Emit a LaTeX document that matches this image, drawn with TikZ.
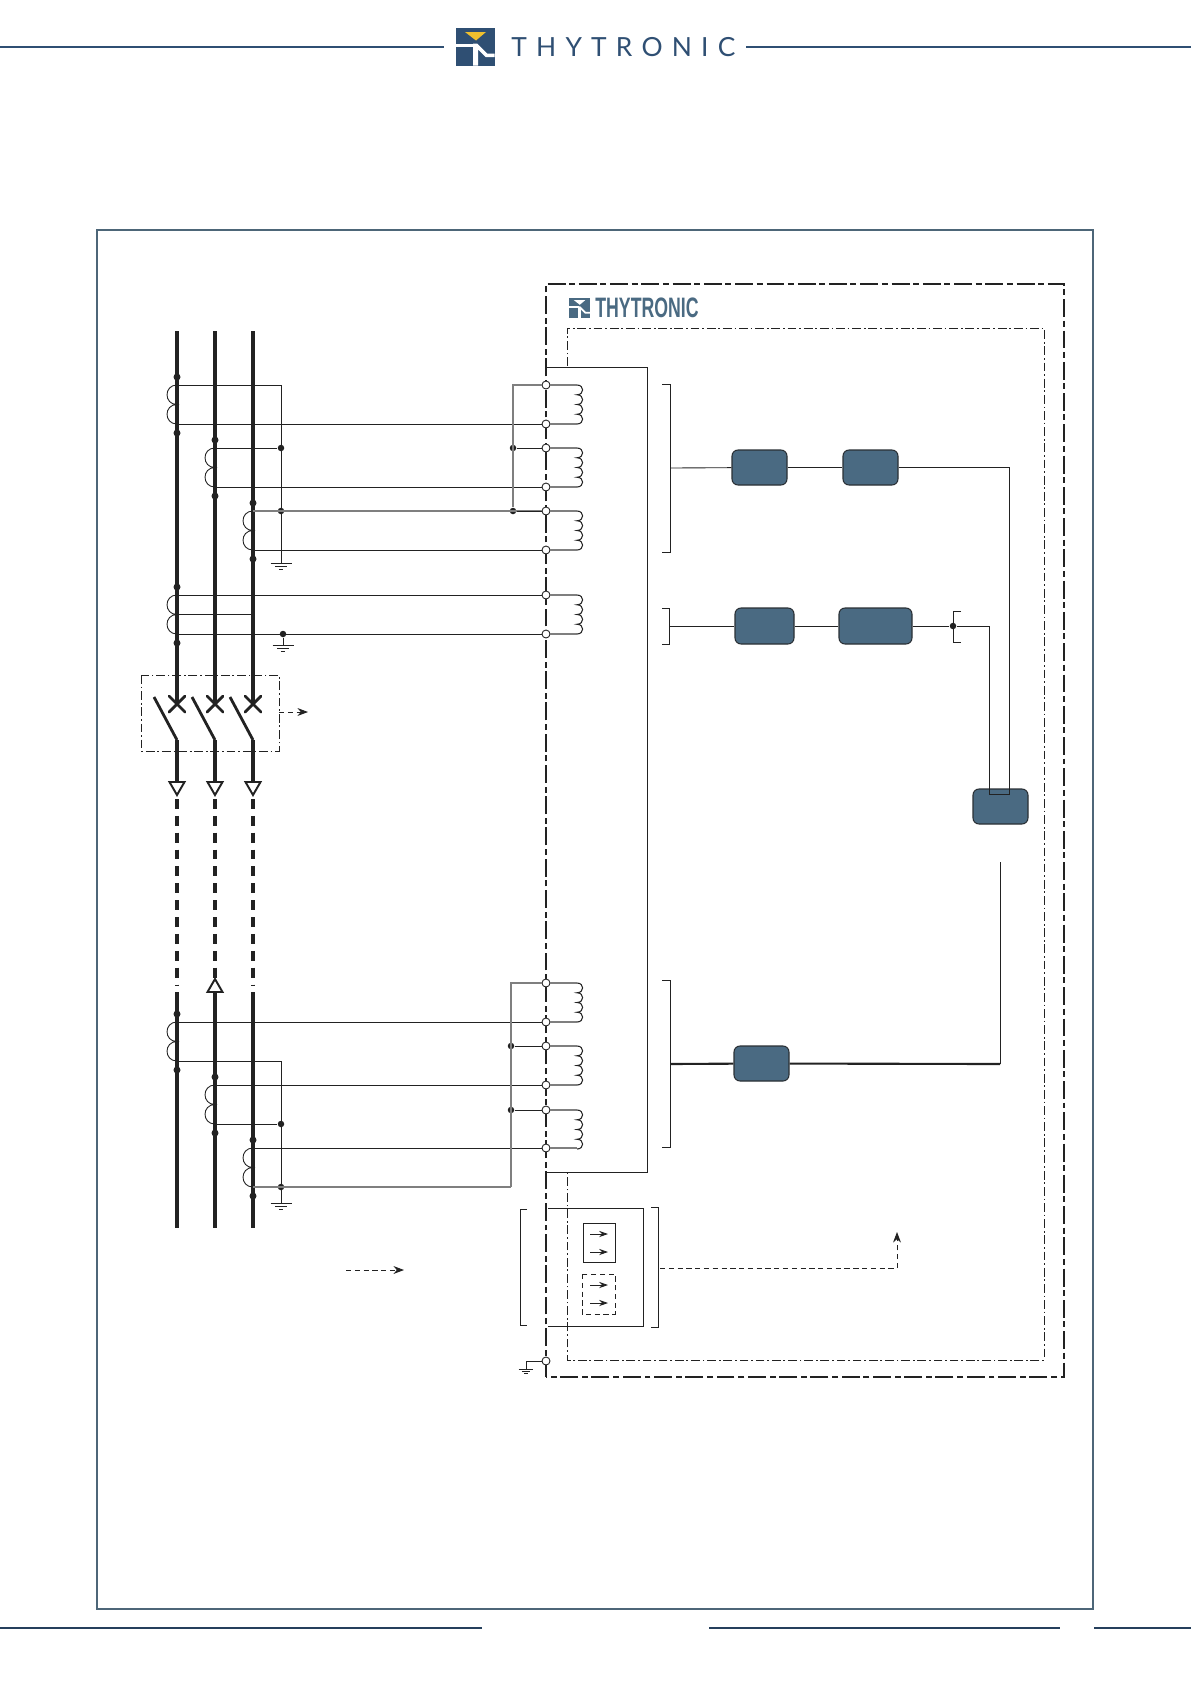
\documentclass[tikz,border=0pt]{standalone}
\usepackage{fontspec}
\usetikzlibrary{arrows.meta,calc}
\newfontfamily\headerfont[LetterSpace=35]{Lato}
\newfontfamily\brandfont[FakeStretch=0.63]{Liberation Sans}
\definecolor{navy}{HTML}{2F4F73}
\definecolor{slate}{HTML}{4A6A82}
\definecolor{framecol}{HTML}{4D6678}
\definecolor{ink}{HTML}{222222}
\definecolor{gold}{HTML}{EFC02E}
\definecolor{greywire}{HTML}{7F7F7F}
\begin{document}
\begin{tikzpicture}[
      x=0.02cm,
      y=-0.02cm,
      wire/.style={draw=ink,
                   line width=0.5pt},
      greyed/.style={draw=greywire,
                     line width=0.7pt},
      heavy/.style={draw=ink,
                    line width=1.2pt},
      phase/.style={draw=ink,
                    line width=2pt},
      phasedash/.style={draw=ink,
                        line width=1.9pt,
                        dash pattern=on 5.6pt off 4pt},
      panel/.style={draw=ink,
                    line width=1.1pt,
                    dash pattern=on 10.2pt off 2pt on 3.4pt off 2.2pt},
      compartment/.style={draw=ink,
                          line width=0.5pt,
                          dash pattern=on 5pt off 1.6pt on 1pt off 1.6pt},
      signal/.style={draw=ink,
                     line width=0.5pt,
                     dash pattern=on 3pt off 2pt},
      block/.style={rectangle,
                    draw=ink!80!slate,
                    line width=0.6pt,
                    fill=slate,
                    rounded corners=0.12cm,
                    minimum height=0.7cm,
                    minimum width=1.1cm},
      terminal/.style={circle,
                       draw=ink,
                       line width=0.5pt,
                       fill=white,
                       inner sep=0pt,
                       minimum size=0.16cm},
      joint/.style={circle,
                    fill=ink,
                    inner sep=0pt,
                    minimum size=0.13cm},
      tap/.style={joint,
                  minimum size=0.14cm},
      ctcoil/.pic={
        \draw[draw=ink,line width=0.5pt] (0,0)
              .. controls (-13.3,0) and (-13.3,19.5) .. (0,19.5)
              .. controls (-13.3,19.5) and (-13.3,39) .. (0,39);
      },
      winding/.pic={
        \draw[draw=ink,line width=0.6pt] (0,0)
              .. controls (7.5,0) and (7.5,9.75) .. (0,9.75)
              .. controls (7.5,9.75) and (7.5,19.5) .. (0,19.5)
              .. controls (7.5,19.5) and (7.5,29.25) .. (0,29.25)
              .. controls (7.5,29.25) and (7.5,39) .. (0,39);
      },
      ground/.pic={
        \draw[wire] (-10.5,0) -- (10.5,0)
                    (-6,3.3) -- (6,3.3)
                    (-2.2,6) -- (2.2,6);
      },
      tipdown/.pic={
        \draw[draw=ink,line width=1.1pt,fill=white] (-7.5,0) -- (7.5,0) -- (0,13) -- cycle;
      },
      tipup/.pic={
        \draw[draw=ink,line width=1.1pt,fill=white] (-7.5,0) -- (7.5,0) -- (0,-13) -- cycle;
      },
      pics/logomark/.style 2 args={code={
        \fill[#1] (0,0) rectangle (38.5,37.5);
        \fill[#2] (9,4) -- (30,4) -- (20,12.5) -- cycle;
        \fill[white] (0,15.5) -- (18,15.5) -- (18,19) -- (0,19) -- cycle;
        \fill[white] (17,15.5) -- (21,15.5) -- (31,25.5) -- (38.5,25.5)
                     -- (38.5,29) -- (29.5,29) -- (22,21.5) -- (22,37.5) -- (17,37.5) -- cycle;
      }}
    ]

    \useasboundingbox (0,0) rectangle (1191,1684);

    \fill[white] (0,0) rectangle (1191,1684);

    \draw[navy,line width=1pt] (0,47) -- (444,47);
    \draw[navy,line width=1pt] (746,47) -- (1191,47);
    \pic at (456,28) {logomark={navy}{gold}};
    \draw (511,47)
          node[anchor=west,inner sep=0pt,text=navy]
          (headerlogo)
          {\headerfont\fontsize{15}{15}\selectfont THYTRONIC};

    \draw[framecol,line width=1.1pt] (97,230) rectangle (1093,1609);
    \draw[navy!80!black,line width=1pt] (0,1628) -- (482,1628);
    \draw[navy!80!black,line width=1pt] (709,1628) -- (1060,1628);
    \draw[navy!80!black,line width=1pt] (1094,1628) -- (1191,1628);

    \draw[panel] (546,1377) |- (1064,284) |- cycle;
    \draw[compartment] (567,366) |- (1044,328) |- (567,1360) -- (567,1173);

    \pic[scale=0.54] at (569,298) {logomark={slate}{white}};
    \draw (595,308)
          node[anchor=west,inner sep=0pt,text=slate]
          (brandlogo)
          {\brandfont\bfseries\fontsize{16}{16}\selectfont THYTRONIC};

    \foreach \n/\x in {a/177,b/215,c/253} {
      \coordinate (\n top) at (\x,331);
      \coordinate (\n cross) at (\x,704);
      \coordinate (\n hinge) at (\x,740);
      \coordinate (\n tip) at (\x,782);
      \coordinate (\n dash) at (\x,799);
      \coordinate (\n low) at (\x,992);
      \coordinate (\n end) at (\x,1228);
      \draw[phase] (\n top) -- (\n cross);
      \draw[phase] (\n hinge) -- (\n tip);
      \draw[phase] (\n low) -- (\n end);
      \draw[phase,line cap=round,line width=1.6pt] (\x-8,696) -- (\x+8,712);
      \draw[phase,line cap=round,line width=1.6pt] (\x-8,712) -- (\x+8,696);
      \draw[phase,line width=1.6pt] (\x-23,697) -- (\n hinge);
      \pic at (\n tip) {tipdown};
    }
    \draw[phasedash] (adash) -- (177,985);
    \draw[phasedash] (bdash) -- (215,978);
    \draw[phasedash] (cdash) -- (253,985);
    \pic at (215,992) {tipup};

    \draw[compartment] (141,675) rectangle (279,751);
    \coordinate (tripa) at (279,712);
    \coordinate (tripb) at (308,712);
    \draw[signal,-{Stealth[length=6pt,width=4.5pt]}] (tripa) -- (tripb);
    \coordinate (legenda) at (346,1270);
    \coordinate (legendb) at (404,1270);
    \draw[signal,-{Stealth[length=6pt,width=4.5pt]}] (legenda) -- (legendb);

    \foreach \n/\y in {t1/385,t2/424,t3/448,t4/487,t5/511,t6/550,t7/595,t8/634,
                       t9/983,t10/1022,t11/1046,t12/1085,t13/1110,t14/1148,t15/1361} {
      \node[terminal] (\n) at (546,\y) {};
    }
    \foreach \ta/\tb in {t1/t2,t3/t4,t5/t6,t7/t8,t9/t10,t11/t12,t13/t14} {
      \draw[greyed] (\ta) -- +(31,0);
      \draw[greyed] (\tb) -- +(31,0);
      \pic at ($(\ta)+(31,0)$) {winding};
    }

    \foreach \n/\x/\y in {ct1/177/385,ct2/215/448,ct3/253/511,vt/177/595,
                          ct4/177/1022,ct5/215/1085,ct6/253/1148} {
      \coordinate (\n t) at (\x,\y);
      \coordinate (\n b) at (\x,\y+39);
      \pic at (\n t) {ctcoil};
      \node[tap] (\n u) at (\x,\y-8) {};
      \node[tap] (\n d) at (\x,\y+48) {};
    }

    \coordinate (vtmid) at (177,614);
    \coordinate (vtstar) at (253,614);
    \coordinate (gnd1) at (281,563);
    \coordinate (gnd2) at (283,645);
    \coordinate (gnd3) at (281,1203);
    \coordinate (gnd4) at (526,1369);
    \node[joint] (k1) at (281,448) {};
    \node[joint] (k2) at (281,511) {};
    \node[joint] (k3) at (283,634) {};
    \node[joint] (k4) at (281,1124) {};
    \node[joint] (k5) at (281,1187) {};
    \node[joint] (j1) at (513,448) {};
    \node[joint] (j2) at (513,511) {};
    \node[joint] (j3) at (511,1046) {};
    \node[joint] (j4) at (511,1110) {};
    \coordinate (m1) at (511,1187);

    \draw[wire] (ct1t) -| (gnd1);
    \draw[wire] (ct1b) -- (t2);
    \draw[wire] (ct2t) -- (k1);
    \draw[wire] (ct2b) -- (t4);
    \draw[greyed] (ct3t) -- (t5);
    \draw[wire] (ct3b) -- (t6);
    \draw[greyed] (t1) -| (j2);
    \draw[wire] (j1) -- (t3);
    \draw[wire] (j2) -- (t5);
    \draw[wire] (vtt) -- (t7);
    \draw[wire] (vtb) -- (t8);
    \draw[wire] (vtmid) -- (vtstar);
    \draw[wire] (k3) -- (gnd2);
    \draw[wire] (ct4t) -- (t10);
    \draw[wire] (ct4b) -| (gnd3);
    \draw[wire] (ct5t) -- (t12);
    \draw[wire] (ct5b) -- (k4);
    \draw[wire] (ct6t) -- (t14);
    \draw[greyed] (ct6b) -- (m1);
    \draw[greyed] (t9) -| (m1);
    \draw[wire] (j3) -- (t11);
    \draw[wire] (j4) -- (t13);
    \draw[wire] (t15) -| (gnd4);
    \pic at (gnd1) {ground};
    \pic at (gnd2) {ground};
    \pic at (gnd3) {ground};
    \pic[scale=0.7] at (gnd4) {ground};

    \draw[wire] (547,367) -| (647,1172) -- (546,1172);
    \draw[wire] (548,1208) -| (643,1326) -- (548,1326);
    \draw[wire] (583,1223) rectangle (615,1262);
    \draw[signal] (582,1274) rectangle (615,1314);
    \foreach \y in {1234,1252,1285,1303} {
      \draw[wire,-{Stealth[length=5pt,width=3.5pt]}] (590,\y) -- (608,\y);
    }

    \draw[wire] (527,1209) -| (520,1325) -- (527,1325);
    \draw[wire] (651,1207) -| (658,1327) -- (651,1327);
    \coordinate (trigger) at (660,1268);
    \coordinate (command) at (897,1232);
    \draw[signal,-{Stealth[length=6pt,width=4.5pt]}] (trigger) -| (command);

    \draw[wire] (662,384) -| (670,552) -- (662,552);
    \draw[wire] (662,608) -| (669,644) -- (662,644);
    \draw[wire] (662,980) -| (670,1147) -- (662,1147);
    \draw[wire] (961,611) -| (953,642) -- (961,642);
    \coordinate (phases) at (670,468);
    \coordinate (residual) at (669,626);
    \coordinate (neutral) at (670,1064);

    \draw (759.5,467.5)
          node[block]
          (filtera)
          {};
    \draw (870.5,467.5)
          node[block]
          (adca)
          {};
    \draw (764.5,626)
          node[block,minimum width=1.18cm,minimum height=0.72cm]
          (filterb)
          {};
    \draw (875.5,626)
          node[block,minimum width=1.46cm,minimum height=0.72cm]
          (adcb)
          {};
    \draw (761.5,1063.5)
          node[block]
          (filterc)
          {};
    \draw (1000.5,806.5)
          node[block]
          (cpu)
          {};

    \coordinate (feeda) at (1009,794);
    \coordinate (feedb) at (989,794);
    \node[joint] (tee) at (953,626) {};
    \coordinate (risea) at (1000,1064);
    \coordinate (riseb) at (1000,862);

    \draw[wire] (phases) -- (filtera);
    \draw[wire] (filtera) -- (adca);
    \draw[wire] (adca) -| (feeda) -- (feedb) |- (tee);
    \draw[wire] (residual) -- (filterb);
    \draw[wire] (filterb) -- (adcb);
    \draw[wire] (adcb) -- (tee);
    \draw[heavy] (neutral) -- (filterc);
    \draw[heavy] (filterc) -- (risea);
    \draw[wire] (risea) -- (riseb);

\end{tikzpicture}
\end{document}
